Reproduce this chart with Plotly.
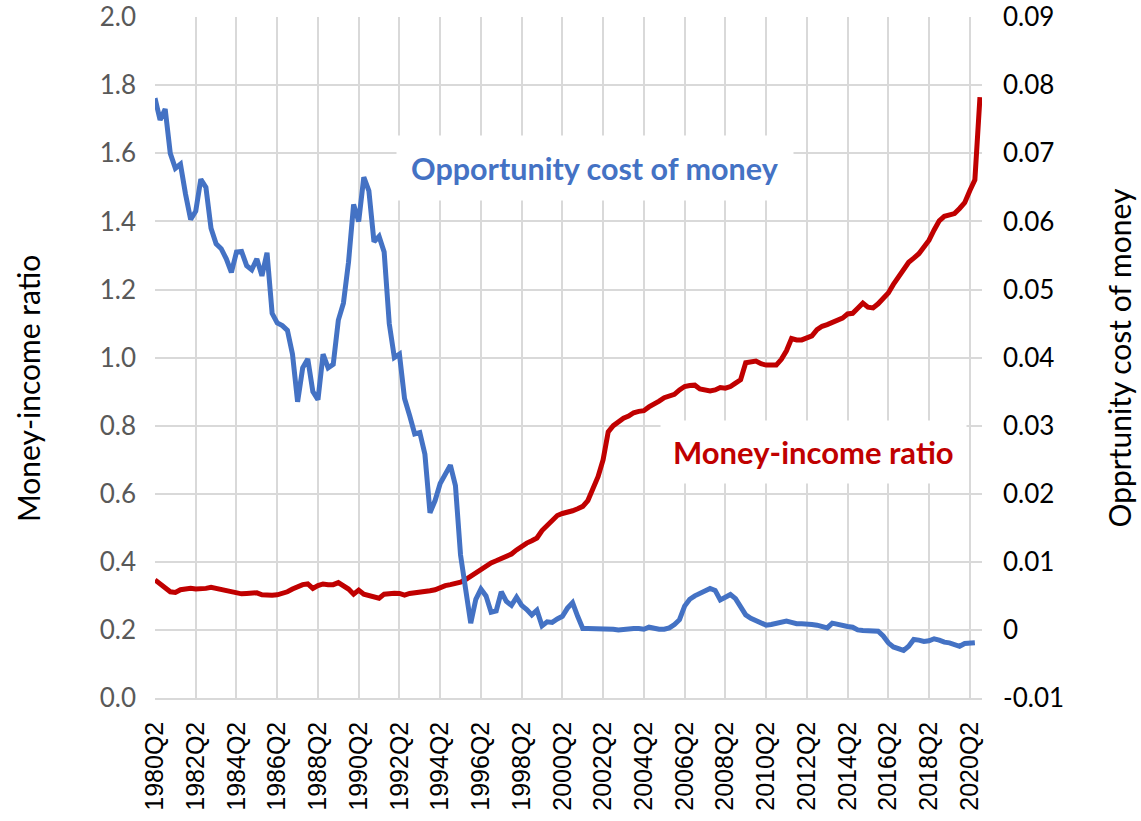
import plotly.graph_objects as go

# quarterly categories, 1980Q2 onwards
start_year = 1980
quarters = []
for k in range(163):
    q = (1 + k) % 4 + 1
    y = start_year + (1 + k) // 4
    quarters.append(f"{y}Q{q}")

tick_labels = ["1980Q2", "1982Q2", "1984Q2", "1986Q2", "1988Q2", "1990Q2", "1992Q2",
               "1994Q2", "1996Q2", "1998Q2", "2000Q2", "2002Q2", "2004Q2", "2006Q2",
               "2008Q2", "2010Q2", "2012Q2", "2014Q2", "2016Q2", "2018Q2", "2020Q2"]

money_income = [
    0.347, 0.335, 0.322, 0.312, 0.310, 0.318, 0.320, 0.322, 0.320, 0.320,
    0.322, 0.325, 0.322, 0.318, 0.316, 0.313, 0.312, 0.306, 0.307, 0.309,
    0.309, 0.303, 0.301, 0.302, 0.303, 0.307, 0.312, 0.320, 0.327, 0.333,
    0.335, 0.322, 0.330, 0.335, 0.333, 0.333, 0.339, 0.330, 0.320, 0.305,
    0.317, 0.305, 0.302, 0.298, 0.293, 0.305, 0.307, 0.308, 0.307, 0.302,
    0.307, 0.309, 0.308, 0.310, 0.315, 0.318, 0.325, 0.330, 0.333, 0.335,
    0.340, 0.348, 0.358, 0.370, 0.380, 0.388, 0.397, 0.403, 0.410, 0.415,
    0.423, 0.435, 0.447, 0.455, 0.462, 0.470, 0.492, 0.508, 0.522, 0.536,
    0.542, 0.545, 0.550, 0.556, 0.563, 0.580, 0.612, 0.650, 0.700, 0.782,
    0.800, 0.812, 0.822, 0.828, 0.838, 0.842, 0.844, 0.855, 0.862, 0.872,
    0.882, 0.888, 0.892, 0.905, 0.915, 0.918, 0.919, 0.908, 0.905, 0.902,
    0.905, 0.912, 0.910, 0.915, 0.925, 0.935, 0.985, 0.988, 0.990, 0.982,
    0.978, 0.978, 0.978, 0.995, 1.020, 1.056, 1.052, 1.052, 1.057, 1.064,
    1.082, 1.092, 1.097, 1.103, 1.110, 1.116, 1.128, 1.130, 1.145, 1.160,
    1.148, 1.146, 1.158, 1.175, 1.190, 1.215, 1.238, 1.262, 1.280, 1.292,
    1.305, 1.325, 1.345, 1.375, 1.402, 1.415, 1.420, 1.423, 1.438, 1.455,
    1.490, 1.522, 1.765,
]

opp_cost = [
    0.0781, 0.0749, 0.0765, 0.0700, 0.0678, 0.0684, 0.0640, 0.0603, 0.0615, 0.0662,
    0.0650, 0.0590, 0.0567, 0.0560, 0.0545, 0.0525, 0.0555, 0.0556, 0.0535, 0.0529,
    0.0545, 0.0520, 0.0554, 0.0465, 0.0451, 0.0447, 0.0440, 0.0405, 0.0335, 0.0385,
    0.0398, 0.0350, 0.0338, 0.0405, 0.0385, 0.0390, 0.0455, 0.0480, 0.0540, 0.0625,
    0.0600, 0.0665, 0.0645, 0.0570, 0.0578, 0.0555, 0.0450, 0.0400, 0.0405, 0.0340,
    0.0315, 0.0288, 0.0290, 0.0258, 0.0172, 0.0190, 0.0215, 0.0228, 0.0242, 0.0212,
    0.0110, 0.0060, 0.0010, 0.0045, 0.0060, 0.0050, 0.0026, 0.0028, 0.0056, 0.0042,
    0.0036, 0.0048, 0.0036, 0.0030, 0.0022, 0.0029, 0.0006, 0.0012, 0.0011, 0.0016,
    0.0020, 0.0032, 0.0040, 0.0020, 0.0002, 0.0002, 0.0002, 0.0002, 0.0002, 0.0001,
    0.0001, 0.0000, 0.0001, 0.0001, 0.0002, 0.0002, 0.0001, 0.0004, 0.0002, 0.0001,
    0.0001, 0.0003, 0.0008, 0.0015, 0.0035, 0.0045, 0.0050, 0.0053, 0.0057, 0.0061,
    0.0058, 0.0044, 0.0048, 0.0052, 0.0046, 0.0033, 0.0022, 0.0017, 0.0014, 0.0011,
    0.0007, 0.0008, 0.0010, 0.0012, 0.0013, 0.0011, 0.0009, 0.0009, 0.0009, 0.0008,
    0.0007, 0.0005, 0.0003, 0.0010, 0.0008, 0.0006, 0.0005, 0.0004, 0.0000, -0.0001,
    -0.0001, -0.0001, -0.0002, -0.0009, -0.0019, -0.0025, -0.0028, -0.0030, -0.0024, -0.0014,
    -0.0015, -0.0017, -0.0016, -0.0013, -0.0015, -0.0018, -0.0019, -0.0022, -0.0024, -0.0020,
    -0.0019, -0.0019,
]

left_ticks = [0.0, 0.2, 0.4, 0.6, 0.8, 1.0, 1.2, 1.4, 1.6, 1.8, 2.0]
right_ticks = [-0.01, 0.0, 0.01, 0.02, 0.03, 0.04, 0.05, 0.06, 0.07, 0.08, 0.09]
right_labels = ["-0.01", "0", "0.01", "0.02", "0.03", "0.04", "0.05", "0.06", "0.07", "0.08", "0.09"]

BLUE = "#4472C4"
RED = "#C00000"
GRID = "#D9D9D9"

fig = go.Figure()

fig.add_trace(go.Scatter(
    x=quarters[:len(opp_cost)], y=opp_cost, yaxis="y2", mode="lines",
    line=dict(color=BLUE, width=5), name="Opportunity cost of money",
))
fig.add_trace(go.Scatter(
    x=quarters[:len(money_income)], y=money_income, mode="lines",
    line=dict(color=RED, width=5), name="Money-income ratio",
))

fig.update_layout(
    width=1141, height=821,
    margin=dict(l=155, r=159, t=17, b=123, autoexpand=False),
    plot_bgcolor="white", paper_bgcolor="white",
    showlegend=False,
    xaxis=dict(
        type="category", range=[0, 162.4], automargin=False,
        tickmode="array", tickvals=tick_labels, ticktext=tick_labels,
        tickangle=-90, tickfont=dict(family="Liberation Sans", size=25, color="black"),
        showgrid=True, gridcolor=GRID, gridwidth=1.5,
        showline=True, linecolor=GRID, linewidth=1.5,
        ticks="", ticklabelstandoff=12, zeroline=False,
    ),
    yaxis=dict(
        range=[0, 2.0005], tickvals=left_ticks, tickformat=".1f", automargin=False,
        tickfont=dict(family="Lato", size=26, color="#595959"),
        showgrid=True, gridcolor=GRID, gridwidth=1.5, zeroline=False,
        ticks="", ticklabelstandoff=18, ticklabeloverflow="allow",
    ),
    yaxis2=dict(
        range=[-0.01, 0.090025], overlaying="y", side="right", automargin=False,
        tickvals=right_ticks, ticktext=right_labels,
        tickfont=dict(family="Lato", size=26, color="black"),
        showgrid=False, zeroline=False, ticks="", ticklabelstandoff=20,
        ticklabeloverflow="allow",
    ),
)

fig.add_annotation(
    text="Opportunity cost of money", xref="paper", yref="paper",
    x=0.532, y=0.778, xanchor="center", yanchor="middle", showarrow=False,
    font=dict(family="Lato", size=30.5, color=BLUE, weight="bold"),
    bgcolor="white", borderpad=14,
)
fig.add_annotation(
    text="Money-income ratio", xref="paper", yref="paper",
    x=0.796, y=0.361, xanchor="center", yanchor="middle", showarrow=False,
    font=dict(family="Lato", size=31, color=RED, weight="bold"),
    bgcolor="white", borderpad=12,
)
fig.add_annotation(
    text="Money-income ratio", xref="paper", yref="paper",
    x=-0.1536, y=0.455, xanchor="center", yanchor="middle", textangle=-90,
    showarrow=False, font=dict(family="Lato", size=30, color="black"),
)
fig.add_annotation(
    text="Opprtunity cost of money", xref="paper", yref="paper",
    x=1.1645, y=0.50, xanchor="center", yanchor="middle", textangle=-90,
    showarrow=False, font=dict(family="Lato", size=30, color="black"),
)

# drop the default 8px page margin so the figure fills the window
fig.write_html(
    "out.html",
    config={"displayModeBar": False},
    post_script="document.body.style.margin = '0';",
)
